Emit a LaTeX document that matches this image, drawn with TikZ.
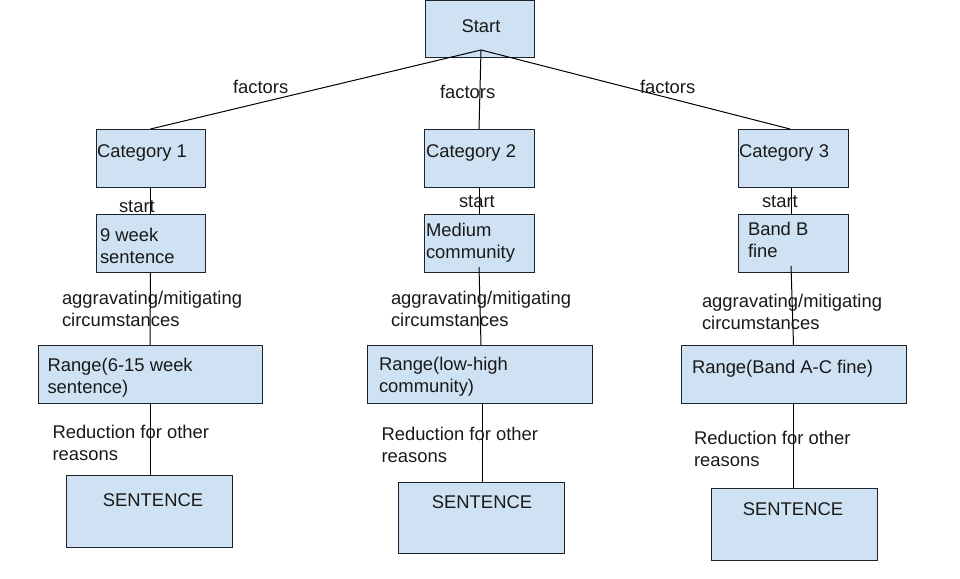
\documentclass[tikz,border=0pt]{standalone}
\usepackage{fontspec}
\setmainfont{Liberation Sans}
\definecolor{boxfill}{RGB}{207,226,243}
\definecolor{boxline}{RGB}{30,35,42}
\begin{document}
\begin{tikzpicture}[x=1pt,y=-1pt,
  box/.style={draw=boxline,fill=boxfill,line width=1pt,inner sep=0pt,outer sep=0pt},
  lbl/.style={anchor=base west,inner sep=0pt,outer sep=0pt,align=left,font=\fontsize{18.4}{22}\selectfont,text=black!90},
  clbl/.style={lbl,anchor=base},
  conn/.style={draw=black,line width=1pt}]
\useasboundingbox (0,0) rectangle (960,578);
% boxes
\node[box,minimum width=109pt,minimum height=57.5pt] (start) at (479.5,29.25) {};
\node[box,minimum width=109pt,minimum height=58pt] (cat1) at (150.5,158) {};
\node[box,minimum width=110pt,minimum height=58pt] (cat2) at (479,158) {};
\node[box,minimum width=110pt,minimum height=58pt] (cat3) at (793,158) {};
\node[box,minimum width=109pt,minimum height=58pt] (wk) at (150.5,243) {};
\node[box,minimum width=110pt,minimum height=58pt] (med) at (479,243) {};
\node[box,minimum width=110pt,minimum height=58pt] (bandb) at (793,243) {};
\node[box,minimum width=224pt,minimum height=58pt] (r1) at (150,374) {};
\node[box,minimum width=225pt,minimum height=58pt] (r2) at (479.5,374) {};
\node[box,minimum width=225pt,minimum height=58pt] (r3) at (793.5,374) {};
\node[box,minimum width=166pt,minimum height=72pt] (s1) at (149,511) {};
\node[box,minimum width=166pt,minimum height=71pt] (s2) at (481,517.5) {};
\node[box,minimum width=166pt,minimum height=72pt] (s3) at (794,524) {};
% connectors
\coordinate (hub) at (481,50);
\draw[conn] (hub) -- (cat1.north);
\draw[conn] (hub) -- (cat2.north);
\draw[conn] (hub) -- ([xshift=-3pt]cat3.north);
\draw[conn] (cat1.south) -- (wk.north);
\draw[conn] (cat2.south) -- (med.north);
\draw[conn] ([xshift=-2pt]cat3.south) -- ([xshift=-2pt]bandb.north);
\draw[conn] (wk.south) -- (r1.north);
\coordinate (m0) at ([yshift=5pt]med.south);
\draw[conn] (m0) -- ([xshift=1.5pt]r2.north);
\coordinate (b0) at ([yshift=6pt,xshift=-2pt]bandb.south);
\draw[conn] (b0) -- (r3.north);
\draw[conn] (r1.south) -- (r1.south |- s1.north);
\draw[conn] ([xshift=2.5pt]r2.south) -- ([xshift=2.5pt]r2.south |- s2.north);
\draw[conn] (r3.south) -- (r3.south |- s3.north);
% box texts (multi-line: base = last line)
\node[clbl] (tstart) at (481,33) {Start};
\node[lbl] (tcat1) at (97,157) {Category 1};
\node[lbl] (tcat2) at (426,157) {Category 2};
\node[lbl] (tcat3) at (739,157) {Category 3};
\node[lbl] (twk) at (100,263) {9 week\\sentence};
\node[lbl] (tmed) at (426,258) {Medium\\community};
\node[lbl] (tbandb) at (748,257) {Band B\\fine};
\node[lbl] (tr1) at (47.5,393) {Range(6-15 week\\sentence)};
\node[lbl] (tr2) at (379,392) {Range(low-high\\community)};
\node[lbl] (tr3) at (692,373) {Range(Band A-C fine)};
\node[clbl] (ts1) at (153,506) {SENTENCE};
\node[clbl] (ts2) at (482,508) {SENTENCE};
\node[clbl] (ts3) at (793,515) {SENTENCE};
% connector labels
\node[lbl] (f1) at (233,93) {factors};
\node[lbl] (f2) at (440,98) {factors};
\node[lbl] (f3) at (640,93) {factors};
\node[lbl] (st1) at (119,212) {start};
\node[lbl] (st2) at (459,207) {start};
\node[lbl] (st3) at (762,207) {start};
\node[lbl] (ag1) at (62,326) {aggravating/mitigating\\circumstances};
\node[lbl] (ag2) at (391,326) {aggravating/mitigating\\circumstances};
\node[lbl] (ag3) at (702,329) {aggravating/mitigating\\circumstances};
\node[lbl] (rd1) at (52.5,460) {Reduction for other\\reasons};
\node[lbl] (rd2) at (381.5,462) {Reduction for other\\reasons};
\node[lbl] (rd3) at (694,466) {Reduction for other\\reasons};
\end{tikzpicture}
\end{document}
